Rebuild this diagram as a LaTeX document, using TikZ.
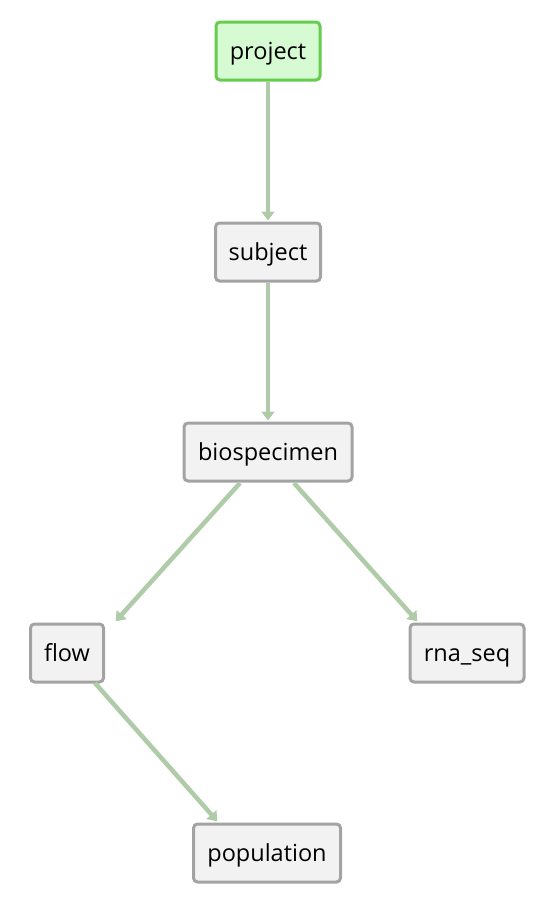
\documentclass[tikz,border=0pt]{standalone}
\usepackage{fontspec}
\setmainfont{Open Sans}
\usetikzlibrary{arrows.meta}
\definecolor{nodefill}{HTML}{F2F2F2}
\definecolor{nodeline}{HTML}{A3A3A3}
\definecolor{projfill}{HTML}{D6FAD2}
\definecolor{projline}{HTML}{66CC4D}
\definecolor{edgecol}{HTML}{AFCBA8}
\tikzset{
  box/.style={draw=nodeline, fill=nodefill, line width=3pt, rounded corners=4pt,
    minimum height=58pt, inner xsep=6pt, text height=18pt, text depth=1pt,
    font=\fontsize{23.5}{28}\selectfont, text=black},
  rootbox/.style={box, draw=projline, fill=projfill},
  edge/.style={draw=edgecol, line width=4.5pt, -{Triangle[width=13pt,length=9pt]}, shorten >=1pt}
}
\begin{document}
\begin{tikzpicture}[x=1pt,y=-1pt]
\useasboundingbox (0,0) rectangle (552,902);
\node[rootbox, minimum width=104pt] (project) at (268,51) {project};
\node[box, minimum width=105pt] (subject) at (268,252) {subject};
\node[box, minimum width=168pt] (bio) at (268,452) {biospecimen};
\node[box, minimum width=73pt] (flow) at (67,653) {flow};
\node[box, minimum width=114pt] (rna) at (467,653) {rna\_seq};
\node[box, minimum width=147pt] (pop) at (267,853) {population};
\coordinate (b1) at (240,483);
\coordinate (b2) at (294,483);
\coordinate (f1) at (115,622);
\coordinate (r1) at (418,622);
\coordinate (f2) at (95,683);
\coordinate (p1) at (218,822);
\draw[edge] (project.south) -- (subject.north);
\draw[edge] (subject.south) -- (bio.north);
\draw[edge] (b1) -- (f1);
\draw[edge] (b2) -- (r1);
\draw[edge] (f2) -- (p1);
\end{tikzpicture}
\end{document}
